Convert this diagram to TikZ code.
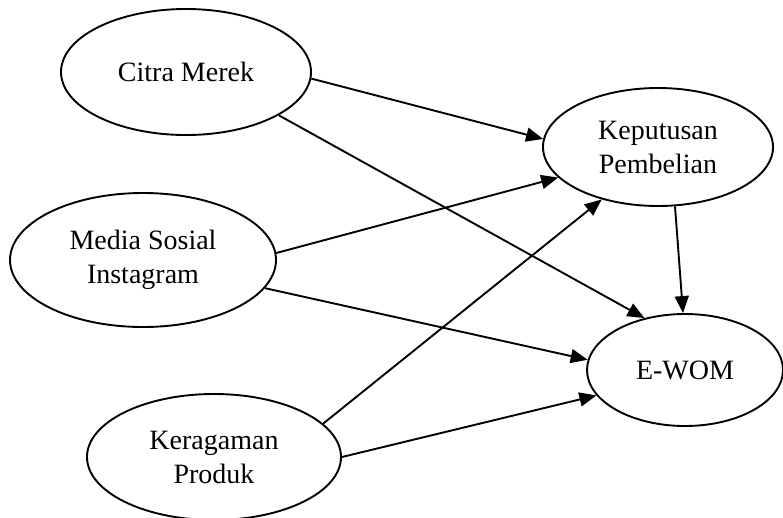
\documentclass[tikz,border=0pt]{standalone}
\usepackage{fontspec}
\setmainfont{Liberation Serif}
\usetikzlibrary{shapes.geometric,arrows.meta}
\begin{document}
\begin{tikzpicture}[x=1pt,y=-1pt,
  var/.style={draw,ellipse,line width=1.9pt,inner sep=0pt,align=center,
    font=\fontsize{28}{34}\selectfont},
  arr/.style={line width=1.9pt,-{Triangle[length=17pt,width=14pt]}}]
\useasboundingbox (0,0) rectangle (783,517);
\node[var,minimum width=250pt,minimum height=126pt] (cm) at (186,72) {Citra Merek};
\node[var,minimum width=266pt,minimum height=134pt] (ms) at (143,260) {Media Sosial\\Instagram};
\node[var,minimum width=254pt,minimum height=126pt] (kp) at (214,457) {Keragaman\\Produk};
\node[var,minimum width=230pt,minimum height=118pt] (kb) at (658,147) {Keputusan\\Pembelian};
\node[var,minimum width=196pt,minimum height=112pt] (ew) at (685,370) {E-WOM};
\draw[arr] (cm.-3) -- (kb.176);
\draw[arr] (cm.-25) -- (ew.128);
\draw[arr] (ms.3) -- (kb.-163);
\draw[arr] (ms.-13) -- (ew.174);
\draw[arr] (kp.17) -- (kb.-137);
\draw[arr] (kp.0) -- (ew.-164);
\draw[arr] (kb.-74) -- (ew.92);
\end{tikzpicture}
\end{document}
